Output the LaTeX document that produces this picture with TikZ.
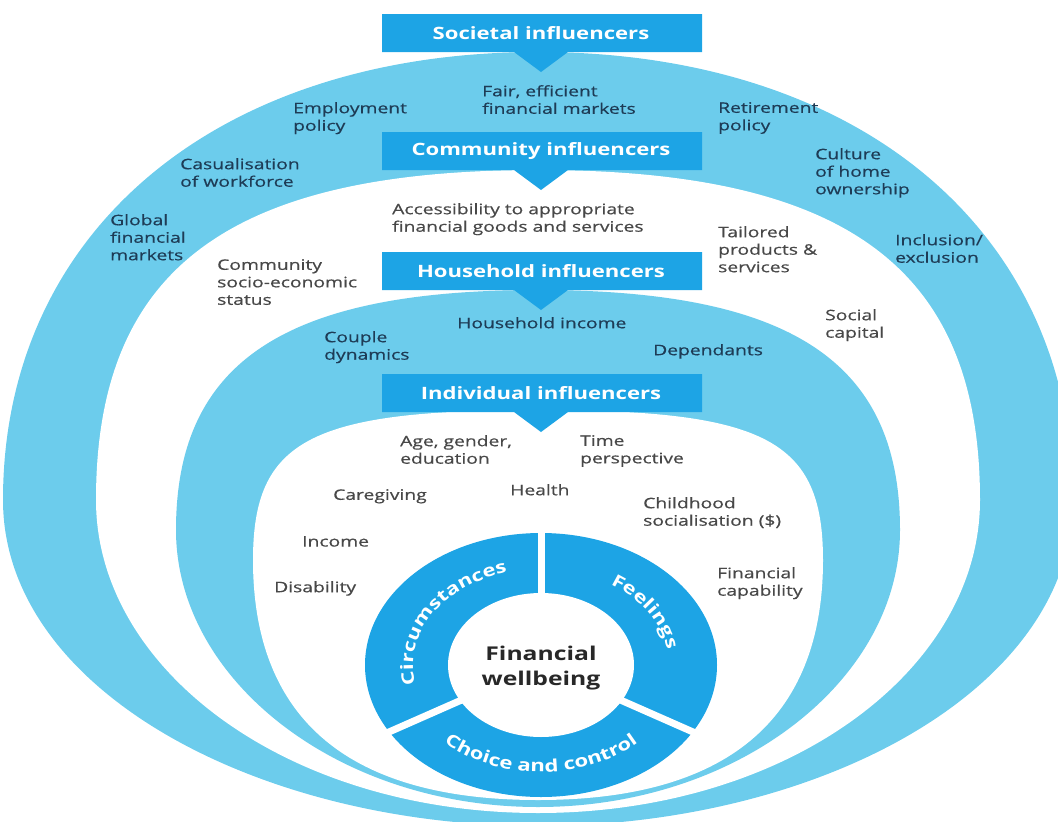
\documentclass[tikz,border=0pt]{standalone}
\usepackage{fontspec}
\setmainfont{Open Sans}[FakeStretch=1.3]
\newfontfamily\labelfont{Open Sans}[FakeStretch=1.33,FakeBold=0.5]
\usepackage{tikz}
\usetikzlibrary{decorations.text}
\definecolor{boxblue}{RGB}{29,164,229}
\definecolor{bandblue}{RGB}{108,204,236}
\definecolor{inktext}{RGB}{30,60,86}
\definecolor{greytext}{RGB}{72,72,72}
\definecolor{coretext}{RGB}{40,40,40}
\tikzset{
  headtext/.style={text=white, inner sep=0pt, font=\fontsize{17}{20}\selectfont\bfseries},
  bluelabel/.style={anchor=north west, align=left, inner sep=0pt, text=inktext,
    font=\labelfont\fontsize{14.5}{17.5}\selectfont},
  whitelabel/.style={bluelabel, text=greytext},
  ringtext/.style={decorate, decoration={text along path, text align=center,
    text={|\color{white}\fontsize{17}{20}\selectfont\bfseries|#1}}}
}
% egg shaped layer: colour, top, half width, side height, bottom, shoulder, lower side, lower bottom
\newcommand{\egg}[8]{%
  \fill[#1] (538,-#2) .. controls ({538-#6*#3},-#2) and ({538-#3},{-#4+#6*(#4-#2)}) .. ({538-#3},-#4)
    .. controls ({538-#3},{-#4-#7}) and ({538-#8},-#5) .. (538,-#5)
    .. controls ({538+#8},-#5) and ({538+#3},{-#4-#7}) .. ({538+#3},-#4)
    .. controls ({538+#3},{-#4+#6*(#4-#2)}) and ({538+#6*#3},-#2) .. (538,-#2) -- cycle;}

\begin{document}
\begin{tikzpicture}[x=1pt,y=1pt]
		\useasboundingbox (0,0) rectangle (1058,-822);
		\clip (0,0) rectangle (1058,-822);
		% the four layers
		\egg{bandblue}{52}{535}{500}{826}{0.6}{190}{280}
		\egg{white}{170}{442}{500}{813}{0.7}{170}{250}
		\egg{bandblue}{290}{362}{530}{807}{0.7}{150}{200}
		\egg{white}{410}{285}{560}{800}{0.8}{150}{200}
		% heading boxes with their pointers
		\foreach \t/\name/\txt in {14/soc/Societal influencers,132/com/Community influencers,
				252/hou/Household influencers,374/ind/Individual influencers} {
			\fill[boxblue] (382,-\t) -- (702,-\t) -- (702,-\t-38) -- (568,-\t-38) -- (541,-\t-58)
				-- (514,-\t-38) -- (382,-\t-38) -- cycle;
			\node[headtext] (head\name) at (541,-\t-19) {\txt};
		}
		% societal
		\node[bluelabel] (fair) at (482,-85) {Fair, efficient\\financial markets};
		\node[bluelabel] (employ) at (293,-102) {Employment\\policy};
		\node[bluelabel] (retire) at (718,-102) {Retirement\\policy};
		\node[bluelabel] (casual) at (180,-158) {Casualisation\\of workforce};
		\node[bluelabel] (culture) at (815,-148) {Culture\\of home\\ownership};
		\node[bluelabel] (global) at (110,-214) {Global\\financial\\markets};
		\node[bluelabel] (inclusion) at (895,-234) {Inclusion/\\exclusion};
		% community
		\node[whitelabel] (access) at (392,-203) {Accessibility to appropriate\\financial goods and services};
		\node[whitelabel] (socio) at (217,-259) {Community\\socio-economic\\status};
		\node[whitelabel] (tailor) at (718,-226) {Tailored\\products \&\\services};
		\node[whitelabel] (social) at (825,-309) {Social\\capital};
		% household
		\node[bluelabel] (hhincome) at (457,-317) {Household income};
		\node[bluelabel] (couple) at (324,-331) {Couple\\dynamics};
		\node[bluelabel] (depend) at (653,-344) {Dependants};
		% individual
		\node[whitelabel] (age) at (400,-435) {Age, gender,\\education};
		\node[whitelabel] (time) at (580,-435) {Time\\perspective};
		\node[whitelabel] (care) at (333,-489) {Caregiving};
		\node[whitelabel] (health) at (510,-484) {Health};
		\node[whitelabel] (child) at (643,-497) {Childhood\\socialisation (\$)};
		\node[whitelabel] (income) at (302,-536) {Income};
		\node[whitelabel] (disab) at (274,-581) {Disability};
		\node[whitelabel] (fincap) at (717,-567) {Financial\\capability};
		% the wellbeing ring
		\fill[boxblue] (541,-665) ellipse [x radius=176, y radius=132];
		\foreach \a in {90,210,330}
			\draw[white, line width=7pt] (541,-665) -- ++(\a:190 and 145);
		\fill[white] (541,-665) ellipse [x radius=93, y radius=72];
		\node[text=coretext, align=center, font=\fontsize{19}{25}\selectfont\bfseries] (core) at (541,-668) {Financial\\wellbeing};
		\path[ringtext=Circumstances] (541,-665) ++(207:128 and 96) arc[start angle=207, end angle=93, x radius=128, y radius=96];
		\path[ringtext=Feelings] (541,-665) ++(80:128 and 96) arc[start angle=80, end angle=-20, x radius=128, y radius=96];
		\path[ringtext=Choice and control] (541,-665) ++(205:140 and 107) arc[start angle=205, end angle=335, x radius=140, y radius=107];
	\end{tikzpicture}
\end{document}
